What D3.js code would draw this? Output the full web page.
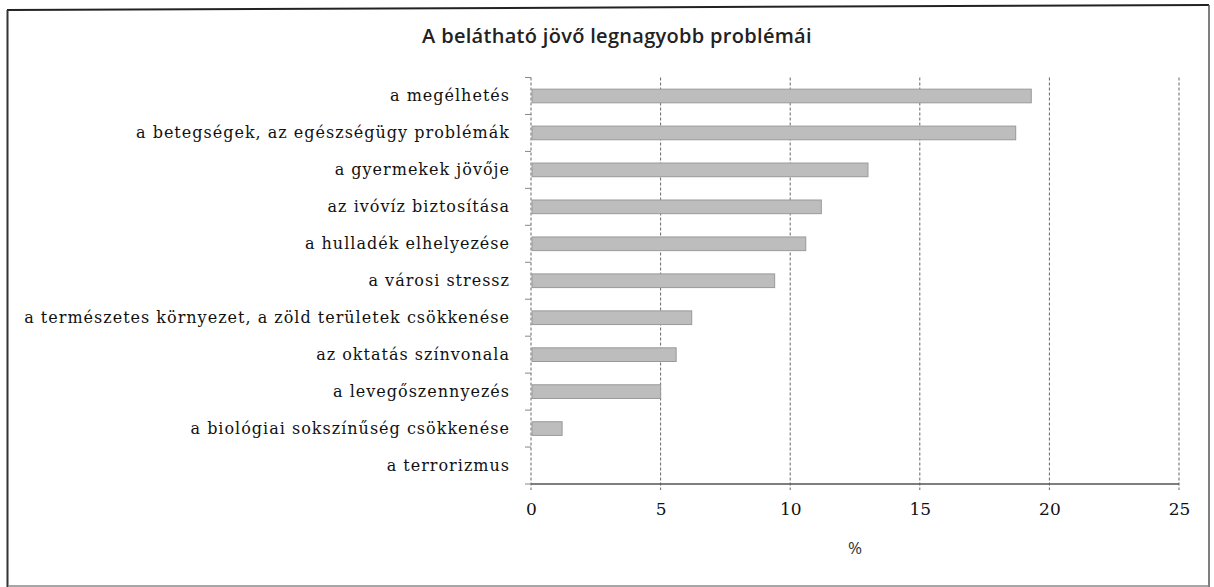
<!DOCTYPE html>
<html><head><meta charset="utf-8">
<script src="https://cdn.jsdelivr.net/npm/d3@7/dist/d3.min.js"></script>
<style>
html,body{margin:0;padding:0;background:#fff;}
svg{display:block;}
</style></head>
<body>
<svg id="chart" width="1214" height="587"></svg>
<script>
const title = "A belátható jövő legnagyobb problémái";
const categories = [
  "a megélhetés",
  "a betegségek, az egészségügy problémák",
  "a gyermekek jövője",
  "az ivóvíz biztosítása",
  "a hulladék elhelyezése",
  "a városi stressz",
  "a természetes környezet, a zöld területek csökkenése",
  "az oktatás színvonala",
  "a levegőszennyezés",
  "a biológiai sokszínűség csökkenése",
  "a terrorizmus"
];
const values = [19.3, 18.7, 13.0, 11.2, 10.6, 9.4, 6.2, 5.6, 5.0, 1.2, 0];
const xTicks = [0, 5, 10, 15, 20, 25];
const xAxisTitle = "%";

(function(){
const svg = d3.select("#chart");
const W = 1214, H = 587;
const pL = 531, pR = 1179, pT = 77.5, pB = 484;

// frame
svg.append("line").attr("x1",7).attr("y1",10).attr("x2",1209).attr("y2",5)
  .attr("stroke","#222").attr("stroke-width",2);
svg.append("line").attr("x1",7.5).attr("y1",10).attr("x2",7.5).attr("y2",H)
  .attr("stroke","#333").attr("stroke-width",2);
svg.append("line").attr("x1",1209).attr("y1",5).attr("x2",1209).attr("y2",H)
  .attr("stroke","#555").attr("stroke-width",1.5);
svg.append("line").attr("x1",8).attr("y1",586).attr("x2",1209).attr("y2",586)
  .attr("stroke","#888").attr("stroke-width",1.5);

const x = d3.scaleLinear().domain([0,25]).range([pL,pR]);
const y = d3.scaleBand().domain(categories).range([pT,pB]).paddingInner(0.63).paddingOuter(0.315);

// gridlines
svg.append("g").selectAll("line").data(xTicks).join("line")
  .attr("x1",d=>x(d)).attr("x2",d=>x(d))
  .attr("y1",pT).attr("y2",pB+6)
  .attr("stroke","#666").attr("stroke-width",1)
  .attr("stroke-dasharray","3,2");

// y-axis ticks at band boundaries
const step = y.step();
svg.append("g").selectAll("line").data(d3.range(categories.length+1)).join("line")
  .attr("x1",pL-6).attr("x2",pL)
  .attr("y1",i=>pT+i*step).attr("y2",i=>pT+i*step)
  .attr("stroke","#888").attr("stroke-width",1);

// bars
svg.append("g").selectAll("rect").data(values).join("rect")
  .attr("x",x(0)+1)
  .attr("y",(d,i)=>y(categories[i]))
  .attr("width",d=>Math.max(0,x(d)-x(0)-1))
  .attr("height",y.bandwidth())
  .attr("fill",d=>d>0?"#bdbdbd":"none")
  .attr("stroke",d=>d>0?"#999":"none")
  .attr("stroke-width",1);

// bottom axis line
svg.append("line").attr("x1",pL).attr("x2",pR).attr("y1",pB).attr("y2",pB)
  .attr("stroke","#555").attr("stroke-width",1.5);

// y axis labels
const yAxis = d3.axisLeft(y).tickSize(0).tickPadding(21);
const gy = svg.append("g").attr("transform",`translate(${pL},0)`).call(yAxis);
gy.select(".domain").remove();
gy.selectAll("text").attr("font-family","'DejaVu Serif',serif")
  .attr("font-size",16).attr("letter-spacing","1px").attr("fill","#111");

// x axis labels
const xAxis = d3.axisBottom(x).tickValues(xTicks).tickSize(0).tickPadding(19).tickFormat(d3.format("d"));
const gx = svg.append("g").attr("transform",`translate(0,${pB})`).call(xAxis);
gx.select(".domain").remove();
gx.selectAll("text").attr("font-family","'DejaVu Serif',serif")
  .attr("font-size",17).attr("fill","#111");

// axis title
svg.append("text").attr("x",(pL+pR)/2).attr("y",554).attr("text-anchor","middle")
  .attr("font-family","'Open Sans',sans-serif").attr("font-size",17).attr("fill","#333")
  .text(xAxisTitle);

// chart title
svg.append("text").attr("x",617).attr("y",43).attr("text-anchor","middle")
  .attr("font-family","'Open Sans',sans-serif").attr("font-weight","600")
  .attr("font-size",20).attr("letter-spacing","0.3px").attr("fill","#222")
  .text(title);
})();
</script>
</body></html>
